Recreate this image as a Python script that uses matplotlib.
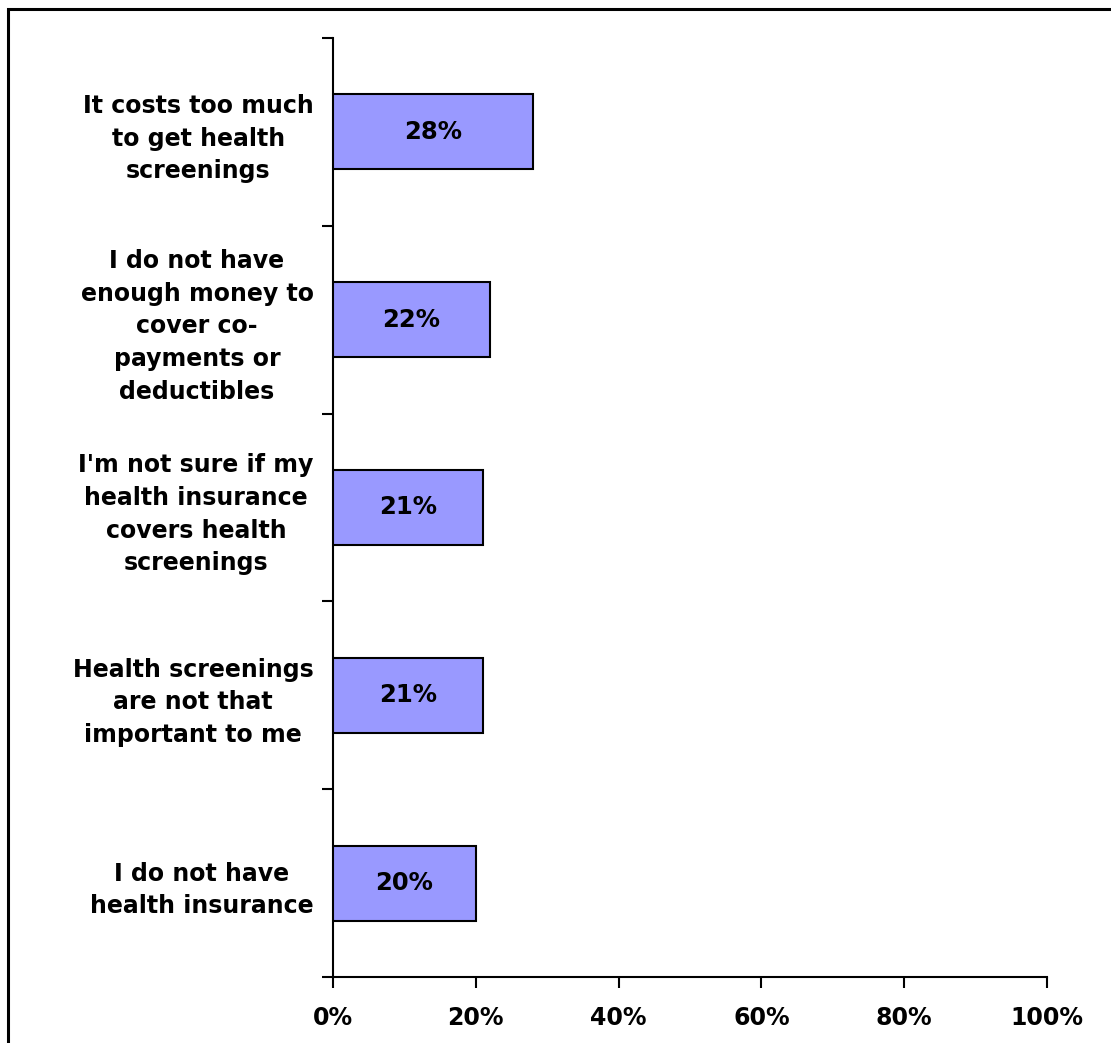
import matplotlib.pyplot as plt
import matplotlib.patches as mpatches
import numpy as np

plt.rcParams.update({
    "font.family": "DejaVu Sans",
    "font.weight": "bold",
    "font.size": 17,
})

# categories, top to bottom
categories = [
    "It costs too much\nto get health\nscreenings",
    "I do not have\nenough money to\ncover co-\npayments or\ndeductibles",
    "I'm not sure if my\nhealth insurance\ncovers health\nscreenings",
    "Health screenings\nare not that\nimportant to me",
    "I do not have\nhealth insurance",
]
values = [28, 22, 21, 21, 20]
value_labels = ["28%", "22%", "21%", "21%", "20%"]
xticks = [0, 20, 40, 60, 80, 100]
xtick_labels = ["0%", "20%", "40%", "60%", "80%", "100%"]

W, H = 1111, 1043
fig = plt.figure(figsize=(W / 100, H / 100), dpi=100)
ax = fig.add_axes([333 / W, 1 - 977 / H, (1047 - 333) / W, (977 - 38) / H])

n = len(categories)
ypos = np.arange(n)
ax.barh(ypos, values, height=0.4, color="#9999FF", edgecolor="black",
        linewidth=1.5, zorder=3)
for y, v, lab in zip(ypos, values, value_labels):
    ax.text(v / 2, y, lab, ha="center", va="center", fontsize=17.5,
            fontweight="bold", zorder=4)

ax.set_ylim(n - 0.5, -0.5)
ax.set_xlim(0, 100)

# labels at category centers, ticks at the boundaries
ax.set_yticks(ypos)
ax.set_yticklabels(categories, multialignment="center", linespacing=1.45)
ax.set_yticks(np.arange(n + 1) - 0.5, minor=True)
ax.tick_params(axis="y", which="major", length=0, pad=14)
ax.tick_params(axis="y", which="minor", length=8, width=1.5, direction="out")

ax.set_xticks(xticks)
ax.set_xticklabels(xtick_labels)
ax.tick_params(axis="x", length=8, width=1.5, direction="out", pad=13)

for s in ["top", "right"]:
    ax.spines[s].set_visible(False)
for s in ["left", "bottom"]:
    ax.spines[s].set_linewidth(1.5)

# outer frame (runs past right/bottom edge like the original)
frame = mpatches.Rectangle((8 / W, -0.1), 1.2, 1 - 9 / H + 0.1,
                           transform=fig.transFigure, fill=False,
                           edgecolor="black", linewidth=2.2)
fig.patches.append(frame)

fig.savefig("out.png", dpi=100)
